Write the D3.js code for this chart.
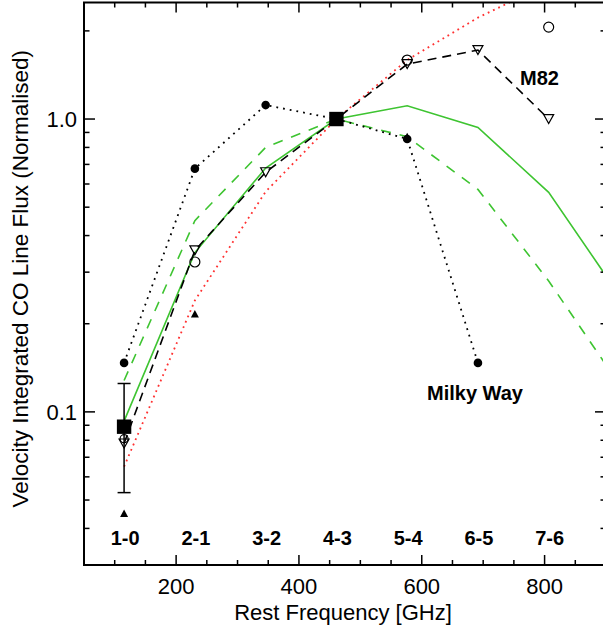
<!DOCTYPE html>
<html><head><meta charset="utf-8">
<script src="https://cdn.jsdelivr.net/npm/d3@7"></script>
<style>
html,body{margin:0;padding:0;background:#fff;}
svg{display:block;font-family:"Liberation Sans",Arial,Helvetica,sans-serif;}
</style></head>
<body><svg id="c" width="603" height="630"></svg>
<script>
// ---------- data ----------
const transitions = ["1-0","2-1","3-2","4-3","5-4","6-5","7-6","8-7"];
const restFreq    = [115.27, 230.54, 345.80, 461.04, 576.27, 691.47, 806.65, 921.80];
const milkyWay    = [0.147, 0.677, 1.116, 1.0, 0.855, 0.147];
const m82         = [0.078, 0.356, 0.658, 1.0, 1.54, 1.72, 1.0];
const openCircles = [0.081, 0.325, null, null, 1.59, null, 2.06];
const filledTri   = [0.045, 0.216, null, 1.0, 0.87];
const squares     = [0.089, null, null, 1.0];
const errLow      = [0.053];
const errHigh     = [0.125];
const modelSolid  = [0.093, 0.35, 0.68, 1.0, 1.11, 0.936, 0.562, 0.25];
const modelDashed = [0.128, 0.45, 0.80, 1.0, 0.87, 0.575, 0.28, 0.124];
const modelRed    = [0.065, 0.24, 0.565, 1.0, 1.59, 2.22, 2.9];
const xMajor = [200, 400, 600, 800];
const xMinor = [100, 150, 250, 300, 350, 450, 500, 550, 650, 700, 750, 850];
const yMajor = [0.1, 1.0];
const yMajorLabels = ["0.1", "1.0"];
const yMinor = [0.04, 0.05, 0.06, 0.07, 0.08, 0.09, 0.2, 0.3, 0.4, 0.5, 0.6, 0.7, 0.8, 0.9, 2.0];

// ---------- layout ----------
const L = 84, R = 606, T = 2.5, B = 565;
const x = d3.scaleLinear().domain([50, 900]).range([L, R]);
const y = d3.scaleLog().domain([0.03, 2.5]).range([B, T]);
const svg = d3.select("#c");

svg.append("defs").append("clipPath").attr("id","clip")
  .append("rect").attr("x",L).attr("y",T).attr("width",R-L).attr("height",B-T);
const plot = svg.append("g").attr("clip-path","url(#clip)");

function pts(arr){ return arr.map((v,i)=>({f:restFreq[i], v})).filter(d=>d.v!=null); }
const line = d3.line().x(d=>x(d.f)).y(d=>y(d.v));

const GREEN = "#3ec431", RED = "#ff3030";
plot.append("path").attr("d", line(pts(modelDashed))).attr("fill","none")
  .attr("stroke",GREEN).attr("stroke-width",1.6).attr("stroke-dasharray","10,9");
plot.append("path").attr("d", line(pts(modelSolid))).attr("fill","none")
  .attr("stroke",GREEN).attr("stroke-width",1.6);
plot.append("path").attr("d", line(pts(modelRed))).attr("fill","none")
  .attr("stroke",RED).attr("stroke-width",1.8).attr("stroke-dasharray","1.8,4");
plot.append("path").attr("d", line(pts(milkyWay))).attr("fill","none")
  .attr("stroke","#000").attr("stroke-width",1.8).attr("stroke-dasharray","1.8,5");
plot.append("path").attr("d", line(pts(m82))).attr("fill","none")
  .attr("stroke","#000").attr("stroke-width",1.6).attr("stroke-dasharray","9,6");

// error bar
const ef = restFreq[0];
const eb = plot.append("g").attr("stroke","#000").attr("stroke-width",1.5);
eb.append("line").attr("x1",x(ef)).attr("x2",x(ef)).attr("y1",y(errLow[0])).attr("y2",y(errHigh[0]));
[errLow[0], errHigh[0]].forEach(v=>eb.append("line").attr("x1",x(ef)-6.5).attr("x2",x(ef)+6.5).attr("y1",y(v)).attr("y2",y(v)));

// markers
pts(openCircles).forEach(d=>plot.append("circle").attr("cx",x(d.f)).attr("cy",y(d.v)).attr("r",d.f<200?4:5)
  .attr("fill","none").attr("stroke","#000").attr("stroke-width",1.2));
pts(m82).forEach(d=>{const cx=x(d.f), cy=y(d.v);
  plot.append("path").attr("d",`M${cx-5},${cy-4.5}L${cx+5},${cy-4.5}L${cx},${cy+4.5}Z`)
   .attr("fill","none").attr("stroke","#000").attr("stroke-width",1.2);});
pts(milkyWay).forEach(d=>plot.append("circle").attr("cx",x(d.f)).attr("cy",y(d.v)).attr("r",4.3).attr("fill","#000"));
pts(filledTri).forEach(d=>{const cx=x(d.f), cy=y(d.v);
  plot.append("path").attr("d",`M${cx-4},${cy+3.5}L${cx+4},${cy+3.5}L${cx},${cy-4}Z`).attr("fill","#000");});
pts(squares).forEach(d=>plot.append("rect").attr("x",x(d.f)-7.2).attr("y",y(d.v)-7.2)
  .attr("width",14.4).attr("height",14.4).attr("fill","#000"));

// axes frame
const ax = svg.append("g").attr("stroke","#000");
ax.append("rect").attr("x",L).attr("y",T).attr("width",R-L).attr("height",B-T)
  .attr("fill","none").attr("stroke-width",2);
xMajor.forEach(v=>{ ax.append("line").attr("x1",x(v)).attr("x2",x(v)).attr("y1",B).attr("y2",B-10).attr("stroke-width",1.5);
  ax.append("line").attr("x1",x(v)).attr("x2",x(v)).attr("y1",T).attr("y2",T+10).attr("stroke-width",1.5);});
xMinor.forEach(v=>{ ax.append("line").attr("x1",x(v)).attr("x2",x(v)).attr("y1",B).attr("y2",B-5).attr("stroke-width",1.5);
  ax.append("line").attr("x1",x(v)).attr("x2",x(v)).attr("y1",T).attr("y2",T+5).attr("stroke-width",1.5);});
yMajor.forEach(v=>{ ax.append("line").attr("x1",L).attr("x2",L+11).attr("y1",y(v)).attr("y2",y(v)).attr("stroke-width",1.5);
  ax.append("line").attr("x1",R).attr("x2",R-11).attr("y1",y(v)).attr("y2",y(v)).attr("stroke-width",1.5);});
yMinor.forEach(v=>{ ax.append("line").attr("x1",L).attr("x2",L+5.5).attr("y1",y(v)).attr("y2",y(v)).attr("stroke-width",1.5);
  ax.append("line").attr("x1",R).attr("x2",R-5.5).attr("y1",y(v)).attr("y2",y(v)).attr("stroke-width",1.5);});

// tick labels
xMajor.forEach(v=>svg.append("text").attr("x",x(v)).attr("y",594).attr("text-anchor","middle")
  .attr("font-size",22).text(v));
yMajor.forEach((v,i)=>svg.append("text").attr("x",77).attr("y",y(v)).attr("dy","0.36em").attr("text-anchor","end")
  .attr("font-size",22).text(yMajorLabels[i]));

// axis titles
svg.append("text").attr("x",(L+602)/2).attr("y",620).attr("text-anchor","middle").attr("font-size",22)
  .text("Rest Frequency [GHz]");
svg.append("text").attr("transform",`translate(28,${(T+B)/2 - 5}) rotate(-90)`).attr("text-anchor","middle")
  .attr("font-size",22.5).text("Velocity Integrated CO Line Flux (Normalised)");

// transition labels
transitions.slice(0,7).forEach((t,i)=>svg.append("text").attr("x",x(restFreq[i])+1).attr("y",545)
  .attr("text-anchor","middle").attr("font-size",20).attr("font-weight","bold").text(t));

// annotations
svg.append("text").attr("x",520).attr("y",85).attr("font-size",20).attr("font-weight","bold").text("M82");
svg.append("text").attr("x",427).attr("y",400).attr("font-size",20).attr("font-weight","bold").text("Milky Way");
</script></body></html>
